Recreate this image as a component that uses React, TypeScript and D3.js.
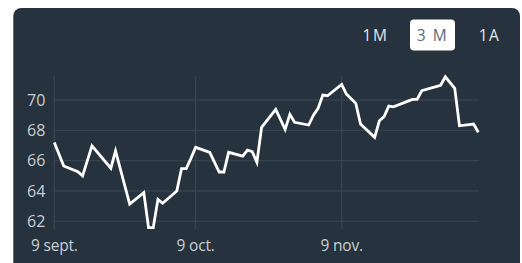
import React from "react";
import * as d3 from "d3";

const dates: string[] = [
  "2020-09-09","2020-09-11","2020-09-14","2020-09-15","2020-09-17","2020-09-21","2020-09-22","2020-09-25",
  "2020-09-28","2020-09-29","2020-09-30","2020-10-01","2020-10-02","2020-10-05","2020-10-06","2020-10-07",
  "2020-10-08","2020-10-09","2020-10-12","2020-10-14","2020-10-15","2020-10-16","2020-10-19","2020-10-20",
  "2020-10-21","2020-10-22","2020-10-23","2020-10-26","2020-10-28","2020-10-29","2020-10-30","2020-11-02",
  "2020-11-03","2020-11-04","2020-11-05","2020-11-06","2020-11-09","2020-11-10","2020-11-12","2020-11-13",
  "2020-11-16","2020-11-17","2020-11-18","2020-11-19","2020-11-20","2020-11-24","2020-11-25","2020-11-26",
  "2020-11-30","2020-12-01","2020-12-03","2020-12-04","2020-12-07","2020-12-08",
];
const values: number[] = [
  67.2,65.65,65.27,65.0,66.98,65.5,66.65,63.14,
  63.89,61.58,61.58,63.45,63.19,64.0,65.47,65.47,
  66.15,66.88,66.55,65.25,65.25,66.55,66.3,66.7,
  66.6,65.89,68.2,69.38,68.06,69.05,68.53,68.35,
  69.0,69.45,70.33,70.28,71.03,70.39,69.78,68.41,
  67.54,68.63,68.9,69.6,69.55,70.04,70.04,70.61,
  70.97,71.53,70.77,68.3,68.41,67.87,
];
const yTicks: number[] = [62, 64, 66, 68, 70];
const xTickDates: string[] = ["2020-09-09", "2020-10-09", "2020-11-09"];
const xTickLabels: string[] = ["9 sept.", "9 oct.", "9 nov."];
const periods: string[] = ["1M", "3 M", "1A"];
const activePeriod = "3 M";

const parse = d3.utcParse("%Y-%m-%d");

export default function App() {
  const data = dates.map((d, i) => ({ date: parse(d) as Date, value: values[i] }));
  const x = d3
    .scaleUtc()
    .domain([parse("2020-09-09") as Date, parse("2020-12-08") as Date])
    .range([54.3, 478.3]);
  const y = d3.scaleLinear().domain([62, 70]).range([221.3, 100]);
  const line = d3
    .line<{ date: Date; value: number }>()
    .x((d) => x(d.date))
    .y((d) => y(d.value))
    .curve(d3.curveLinear);

  const font = "'Open Sans', 'DejaVu Sans', sans-serif";
  const textColor = "#c9ced3";
  const gridColor = "#36434f";
  const periodX = [375.5, 432.5, 489.5];

  return (
    <svg
      width={522}
      height={263}
      style={{ position: "absolute", left: 0, top: 0, background: "#ffffff" }}
    >
      <rect x={13.3} y={8} width={506.7} height={270} rx={8} fill="#26323d" />
      {yTicks.map((t) => (
        <line key={"h" + t} x1={54} x2={479} y1={y(t)} y2={y(t)} stroke={gridColor} strokeWidth={1.3} />
      ))}
      {xTickDates.map((d) => (
        <line
          key={"v" + d}
          x1={x(parse(d) as Date)}
          x2={x(parse(d) as Date)}
          y1={76}
          y2={229}
          stroke={gridColor}
          strokeWidth={1.3}
        />
      ))}
      {yTicks.map((t) => (
        <text
          key={"yl" + t}
          x={27}
          y={y(t)}
          dy="0.36em"
          fill={textColor}
          fontFamily={font}
          fontSize={16}
        >
          {t}
        </text>
      ))}
      {xTickDates.map((d, i) => (
        <text
          key={"xl" + d}
          x={x(parse(d) as Date)}
          y={251}
          textAnchor="middle"
          fill={textColor}
          fontFamily={font}
          fontSize={15.5}
          letterSpacing={-0.2}
        >
          {xTickLabels[i]}
        </text>
      ))}
      <path
        d={line(data) || ""}
        fill="none"
        stroke="#ffffff"
        strokeWidth={2.8}
        strokeLinejoin="miter"
        strokeLinecap="butt"
      />
      {periods.map((p, i) => {
        const active = p === activePeriod;
        return (
          <g key={p}>
            {active && (
              <rect x={410} y={19.5} width={45} height={31} rx={4} fill="#ffffff" />
            )}
            <text
              x={periodX[i]}
              y={35}
              dy="0.36em"
              textAnchor="middle"
              fill={active ? "#5e6a75" : "#e4e7ea"}
              fontFamily={font}
              fontSize={15.5}
              letterSpacing={1.5}
            >
              {p}
            </text>
          </g>
        );
      })}
    </svg>
  );
}
